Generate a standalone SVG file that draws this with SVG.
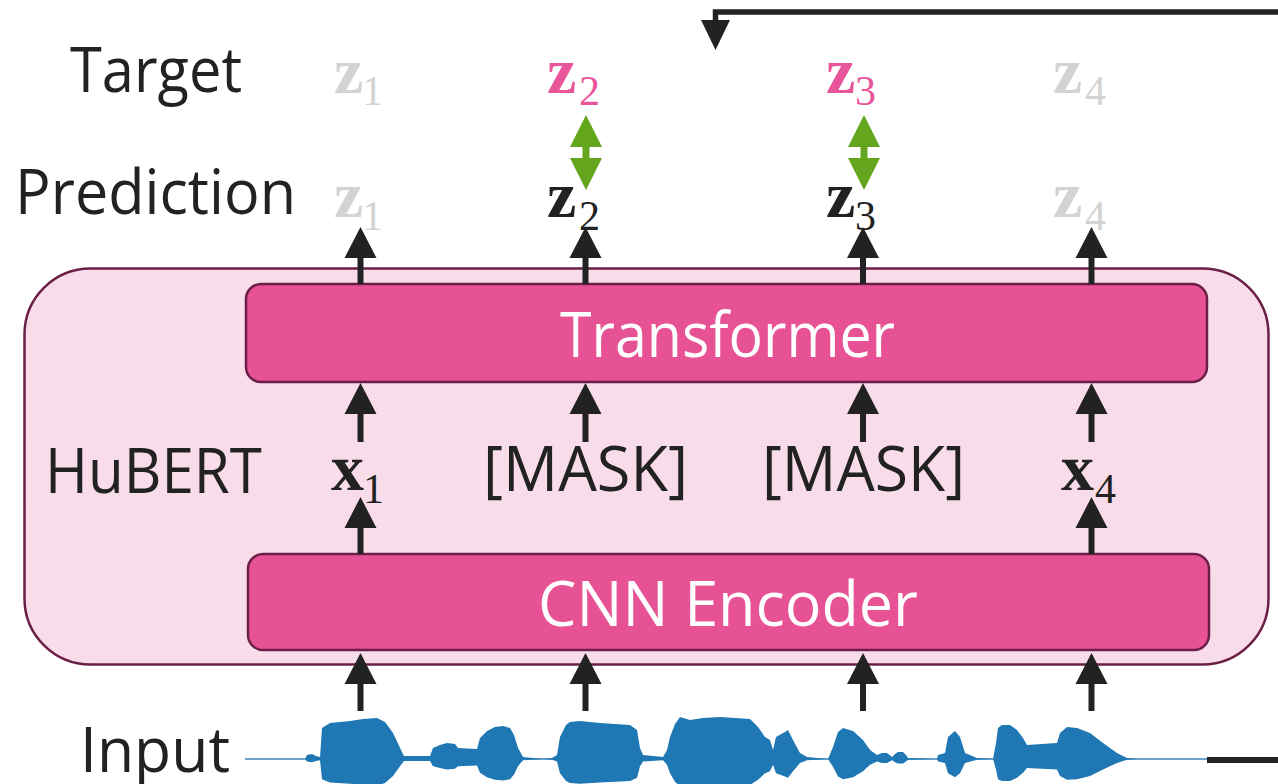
<svg xmlns="http://www.w3.org/2000/svg" xmlns:xlink="http://www.w3.org/1999/xlink" width="1278" height="784" viewBox="0 0 1278 784">
  <style>
    .lbl { font-family: "Open Sans", "Noto Sans", "DejaVu Sans", sans-serif; font-size: 62px; fill: #222222; }
    .inner-lbl { font-family: "Open Sans", "Noto Sans", "DejaVu Sans", sans-serif; font-size: 62px; fill: #ffffff; }
    .mb { font-family: "Liberation Serif", "DejaVu Serif", serif; font-weight: bold; font-size: 66px; }
    .sub { font-family: "Liberation Serif", "DejaVu Serif", serif; font-size: 42px; }
    .dim { fill: #d3d3d3; }
    .hot { fill: #e8559a; }
    .ink { fill: #222222; }
    .box { fill: #e75294; stroke: #6b1f47; stroke-width: 2.5; }
    .shaft { stroke: #222222; stroke-width: 6; fill: none; }
    .head { fill: #222222; }
    .match { fill: #63a51c; }
    .wave { fill: #1f77b4; }
  </style>
  <defs>
    <!-- upward arrowhead, tip at origin -->
    <path id="up" d="M0,0 L16,31 L-16,31 Z"/>
    <!-- upper envelope of the waveform, closed on the zero line -->
    <path id="env" d="M305,759 L307,755 L312,754 L316,756 L320,757 L322,728 L330,723 L350,721 L363,719 L377,718 L385,722 L393,733 L402,752 L404,756 L430,756 L433,748 L440,745 L447,743 L455,744 L458,748 L477,749 L480,738 L487,731 L495,727 L503,726 L510,728 L514,735 L518,748 L523,757 L543,759 L552,758 L557,755 L560,737 L566,725 L570,722 L580,721 L600,723 L630,725 L637,730 L640,748 L643,755 L663,757 L667,750 L670,737 L675,724 L680,717 L690,720 L703,718 L720,717 L750,719 L758,727 L765,737 L770,740 L773,750 L776,737 L785,732 L788,730 L793,740 L800,753 L807,757 L828,759 L833,747 L838,732 L843,728 L853,731 L863,740 L870,750 L877,755 L882,753 L887,753 L892,757 L895,754 L898,752 L903,752 L906,755 L908,758 L937,759 L938,755 L945,753 L948,737 L955,731 L960,737 L965,753 L977,758 L993,759 L996,743 L998,728 L1002,725 L1010,725 L1017,730 L1023,738 L1027,745 L1057,743 L1060,733 L1067,727 L1077,728 L1090,733 L1103,743 L1117,753 L1127,758 L1137,759 Z"/>
  </defs>

  <rect width="1278" height="784" fill="#ffffff"/>

  <!-- HuBERT model container -->
  <g id="hubert">
    <rect x="24.5" y="268.5" width="1244" height="396" rx="66" fill="#f9dcea" stroke="#6b1f47" stroke-width="2.5"/>
    <text class="lbl" x="45" y="493" textLength="217" lengthAdjust="spacingAndGlyphs">HuBERT</text>
  </g>

  <g id="transformer">
    <rect class="box" x="246" y="284" width="961" height="98" rx="15"/>
    <text class="inner-lbl" x="560" y="357" textLength="335" lengthAdjust="spacingAndGlyphs">Transformer</text>
  </g>

  <g id="cnn-encoder">
    <rect class="box" x="248" y="554" width="961" height="96" rx="15"/>
    <text class="inner-lbl" x="538" y="626" textLength="380" lengthAdjust="spacingAndGlyphs">CNN Encoder</text>
  </g>

  <!-- row labels -->
  <g id="row-labels">
    <text class="lbl" x="70" y="92" textLength="172" lengthAdjust="spacingAndGlyphs">Target</text>
    <text class="lbl" x="15" y="214" textLength="281" lengthAdjust="spacingAndGlyphs">Prediction</text>
    <text class="lbl" x="80" y="772" textLength="150" lengthAdjust="spacingAndGlyphs">Input</text>
  </g>

  <!-- targets -->
  <g id="targets">
    <text class="mb dim" x="334" y="93">z</text><text class="sub dim" x="362" y="105">1</text>
    <text class="mb hot" x="547" y="93">z</text><text class="sub hot" x="579" y="105">2</text>
    <text class="mb hot" x="826" y="93">z</text><text class="sub hot" x="855" y="105">3</text>
    <text class="mb dim" x="1053" y="93">z</text><text class="sub dim" x="1085" y="105">4</text>
  </g>

  <!-- predictions -->
  <g id="predictions">
    <text class="mb dim" x="334" y="217">z</text><text class="sub dim" x="362" y="230">1</text>
    <text class="mb ink" x="547" y="217">z</text><text class="sub ink" x="579" y="230">2</text>
    <text class="mb ink" x="826" y="217">z</text><text class="sub ink" x="855" y="230">3</text>
    <text class="mb dim" x="1053" y="217">z</text><text class="sub dim" x="1085" y="230">4</text>
  </g>

  <!-- encoder outputs / masked positions -->
  <g id="features">
    <text class="mb ink" x="331" y="490">x</text><text class="sub ink" x="363" y="503">1</text>
    <text class="lbl" x="483" y="491" textLength="205" lengthAdjust="spacingAndGlyphs">[MASK]</text>
    <text class="lbl" x="762" y="491" textLength="203" lengthAdjust="spacingAndGlyphs">[MASK]</text>
    <text class="mb ink" x="1061" y="490">x</text><text class="sub ink" x="1095" y="503">4</text>
  </g>

  <!-- input waveform -->
  <g id="waveform">
    <line x1="245" y1="759" x2="1207" y2="759" stroke="#3d86bd" stroke-width="1.6"/>
    <use xlink:href="#env" class="wave"/>
    <use xlink:href="#env" class="wave" transform="translate(0,759) scale(1,-0.65) translate(0,-759)"/>
  </g>

  <g id="connectors">
    <!-- waveform -> CNN encoder -->
    <g>
      <line class="shaft" x1="360.5" y1="711" x2="360.5" y2="680"/>
      <line class="shaft" x1="585.5" y1="711" x2="585.5" y2="680"/>
      <line class="shaft" x1="863" y1="711" x2="863" y2="680"/>
      <line class="shaft" x1="1091.5" y1="711" x2="1091.5" y2="680"/>
      <use xlink:href="#up" class="head" x="360.5" y="653"/>
      <use xlink:href="#up" class="head" x="585.5" y="653"/>
      <use xlink:href="#up" class="head" x="863" y="653"/>
      <use xlink:href="#up" class="head" x="1091.5" y="653"/>
    </g>
    <!-- CNN encoder -> features (unmasked positions) -->
    <g>
      <line class="shaft" x1="360.5" y1="554" x2="360.5" y2="524"/>
      <line class="shaft" x1="1091.5" y1="554" x2="1091.5" y2="524"/>
      <use xlink:href="#up" class="head" x="360.5" y="497"/>
      <use xlink:href="#up" class="head" x="1091.5" y="497"/>
    </g>
    <!-- features -> transformer -->
    <g>
      <line class="shaft" x1="360.5" y1="442" x2="360.5" y2="410"/>
      <line class="shaft" x1="585.5" y1="442" x2="585.5" y2="410"/>
      <line class="shaft" x1="863" y1="442" x2="863" y2="410"/>
      <line class="shaft" x1="1091.5" y1="442" x2="1091.5" y2="410"/>
      <use xlink:href="#up" class="head" x="360.5" y="383"/>
      <use xlink:href="#up" class="head" x="585.5" y="383"/>
      <use xlink:href="#up" class="head" x="863" y="383"/>
      <use xlink:href="#up" class="head" x="1091.5" y="383"/>
    </g>
    <!-- transformer -> predictions -->
    <g>
      <line class="shaft" x1="360.5" y1="284" x2="360.5" y2="254"/>
      <line class="shaft" x1="585.5" y1="284" x2="585.5" y2="254"/>
      <line class="shaft" x1="863" y1="284" x2="863" y2="254"/>
      <line class="shaft" x1="1091.5" y1="284" x2="1091.5" y2="254"/>
      <use xlink:href="#up" class="head" x="360.5" y="227"/>
      <use xlink:href="#up" class="head" x="585.5" y="227"/>
      <use xlink:href="#up" class="head" x="863" y="227"/>
      <use xlink:href="#up" class="head" x="1091.5" y="227"/>
    </g>
    <!-- prediction / target comparison -->
    <g class="match">
      <path d="M586,115 L602,147 L589.5,147 L589.5,158 L602,158 L586,190 L570,158 L582.5,158 L582.5,147 L570,147 Z"/>
      <path d="M864,115 L880,147 L867.5,147 L867.5,158 L880,158 L864,190 L848,158 L860.5,158 L860.5,147 L848,147 Z"/>
    </g>
    <!-- feedback path into the targets -->
    <polyline points="1278,12 715.5,12 715.5,22" fill="none" stroke="#222222" stroke-width="5.5"/>
    <path d="M701,20 L730,20 L715.5,50 Z" fill="#222222"/>
    <!-- waveform exit line -->
    <line x1="1207" y1="760" x2="1278" y2="760" stroke="#222222" stroke-width="6"/>
  </g>
</svg>
